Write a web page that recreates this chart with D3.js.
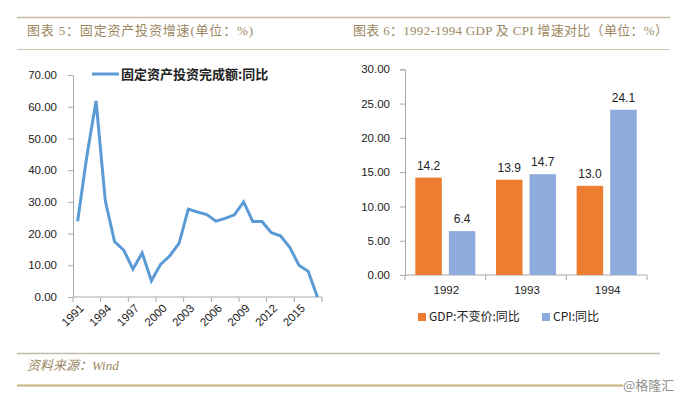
<!DOCTYPE html>
<html><head><meta charset="utf-8">
<script src="https://cdn.jsdelivr.net/npm/d3@7"></script>
<style>
html,body{margin:0;padding:0;background:#fff;}
svg{display:block;}
.tick text{font-family:"Liberation Sans","Noto Sans",sans-serif;}
</style>
</head><body>
<script>
// ---- data ----
const leftTitle = "图表 5：固定资产投资增速(单位：%)";
const rightTitle = "图表 6：1992-1994 GDP 及 CPI 增速对比（单位：%）";
const sourceText = "资料来源：Wind";
const watermark = "@格隆汇";

const years = [1991,1992,1993,1994,1995,1996,1997,1998,1999,2000,2001,2002,2003,2004,2005,2006,2007,2008,2009,2010,2011,2012,2013,2014,2015,2016,2017];
const faiGrowth = [23.9,44.4,61.8,30.4,17.5,14.8,8.8,13.9,5.1,10.3,13.0,16.9,27.7,26.8,26.0,23.9,24.8,25.9,30.0,23.8,23.8,20.3,19.3,15.7,10.0,8.1,0.0];
const faiName = "固定资产投资完成额:同比";
const leftYTicks = [0,10,20,30,40,50,60,70];
const leftXLabels = [1991,1994,1997,2000,2003,2006,2009,2012,2015];

const barYears = ["1992","1993","1994"];
const seriesNames = ["GDP:不变价:同比","CPI:同比"];
const gdpGrowth = [14.2,13.9,13.0];
const cpiGrowth = [6.4,14.7,24.1];
const rightYTicks = [0,5,10,15,20,25,30];

// ---- drawing ----
const W = 682, H = 400;
const svg = d3.select("body").append("svg").attr("width",W).attr("height",H);
const gold = "#9c8762";
const axisColor = "#a9a9a9";
const cjk = '"Noto Sans CJK SC","Noto Sans",sans-serif';

// header / footer frame
svg.append("line").attr("x1",17).attr("x2",670).attr("y1",17.5).attr("y2",17.5).attr("stroke","#c7bca6").attr("stroke-width",1.5);
svg.append("line").attr("x1",17).attr("x2",670).attr("y1",49.5).attr("y2",49.5).attr("stroke","#cfc5b2").attr("stroke-width",1.2);
svg.append("text").attr("x",27).attr("y",35).attr("fill",gold)
  .attr("font-family",'"Liberation Serif","Noto Sans CJK SC",serif').attr("font-size",13)
  .attr("textLength",226).attr("lengthAdjust","spacing").text(leftTitle);
svg.append("text").attr("x",353).attr("y",35).attr("fill",gold)
  .attr("font-family",'"Liberation Serif","Noto Sans CJK SC",serif').attr("font-size",13)
  .attr("textLength",315).attr("lengthAdjust","spacing").text(rightTitle);

svg.append("line").attr("x1",17).attr("x2",660).attr("y1",353.5).attr("y2",353.5).attr("stroke","#c2bbad").attr("stroke-width",1.5);
svg.append("line").attr("x1",17).attr("x2",623).attr("y1",385.5).attr("y2",385.5).attr("stroke","#c8b27f").attr("stroke-width",2);
svg.append("text").attr("x",27).attr("y",370).attr("fill",gold)
  .attr("font-family",'"Liberation Serif","Noto Sans CJK SC",serif').attr("font-size",13)
  .attr("font-style","italic").text(sourceText);
svg.append("text").attr("x",623).attr("y",390).attr("fill","#8f8f8f")
  .attr("font-family",cjk).attr("font-size",13).text(watermark);

// ---- left line chart ----
const xL = d3.scaleBand().domain(years).range([73,322]).padding(0);
const yL = d3.scaleLinear().domain([0,70]).range([297,75]);
const gLY = svg.append("g").attr("transform","translate(73,0)")
  .call(d3.axisLeft(yL).tickValues(leftYTicks).tickFormat(d3.format(".2f")).tickSize(5).tickPadding(11));
gLY.selectAll("text").attr("font-size",11.5).attr("fill","#222");
gLY.selectAll("line,path").attr("stroke",axisColor);

const gLX = svg.append("g");
gLX.append("line").attr("x1",73).attr("x2",322).attr("y1",297).attr("y2",297).attr("stroke",axisColor);
years.forEach((yr,i)=>{
  if(i%3===0) gLX.append("line").attr("x1",xL(yr)).attr("x2",xL(yr)).attr("y1",297).attr("y2",302).attr("stroke",axisColor);
});
gLX.append("line").attr("x1",322).attr("x2",322).attr("y1",297).attr("y2",302).attr("stroke",axisColor);
leftXLabels.forEach(yr=>{
  const cx = xL(yr)+xL.bandwidth()/2;
  gLX.append("text").attr("transform",`translate(${cx+4},${306}) rotate(-45)`)
    .attr("text-anchor","end").attr("dy","0.35em")
    .attr("font-family",'"Liberation Sans","Noto Sans",sans-serif').attr("font-size",11.5).attr("fill","#222").text(yr);
});

const line = d3.line().x((d,i)=>xL(years[i])+xL.bandwidth()/2).y(d=>yL(d));
svg.append("path").datum(faiGrowth).attr("d",line).attr("fill","none")
  .attr("stroke","#5b9bd5").attr("stroke-width",3);

// legend left
svg.append("line").attr("x1",92).attr("x2",119).attr("y1",74).attr("y2",74).attr("stroke","#5b9bd5").attr("stroke-width",3);
svg.append("text").attr("x",121).attr("y",78.5).attr("font-family",cjk).attr("font-size",13)
  .attr("font-weight","bold").attr("fill","#222").text(faiName);

// ---- right bar chart ----
const x0 = d3.scaleBand().domain(barYears).range([405,647]).padding(0);
const x1 = d3.scaleBand().domain(seriesNames).range([10.3, x0.bandwidth()-10.3]).paddingInner(0.21);
const yR = d3.scaleLinear().domain([0,30]).range([275,69.3]);
const colors = ["#ed7d31","#8faadc"];

const gRY = svg.append("g").attr("transform","translate(405,0)")
  .call(d3.axisLeft(yR).tickValues(rightYTicks).tickFormat(d3.format(".2f")).tickSize(5).tickPadding(10));
gRY.selectAll("text").attr("font-size",11.5).attr("fill","#222");
gRY.selectAll("line,path").attr("stroke",axisColor);

const gRX = svg.append("g");
gRX.append("line").attr("x1",405).attr("x2",647).attr("y1",275).attr("y2",275).attr("stroke",axisColor);
barYears.forEach(c=>{
  gRX.append("line").attr("x1",x0(c)).attr("x2",x0(c)).attr("y1",275).attr("y2",280).attr("stroke",axisColor);
  gRX.append("text").attr("x",x0(c)+x0.bandwidth()/2+1).attr("y",294).attr("text-anchor","middle")
    .attr("font-family",'"Liberation Sans","Noto Sans",sans-serif').attr("font-size",11.5).attr("fill","#222").text(c);
});
gRX.append("line").attr("x1",647).attr("x2",647).attr("y1",275).attr("y2",280).attr("stroke",axisColor);

const seriesData = [gdpGrowth, cpiGrowth];
seriesData.forEach((vals,s)=>{
  vals.forEach((v,i)=>{
    const bx = x0(barYears[i]) + x1(seriesNames[s]);
    svg.append("rect").attr("x",bx).attr("y",yR(v)).attr("width",x1.bandwidth())
      .attr("height",yR(0)-yR(v)).attr("fill",colors[s]);
    svg.append("text").attr("x",bx+x1.bandwidth()/2).attr("y",yR(v)-8).attr("text-anchor","middle")
      .attr("font-family",'"Liberation Sans","Noto Sans",sans-serif').attr("font-size",12).attr("fill","#222")
      .text(d3.format(".1f")(v));
  });
});

// legend right
const legX = [418, 542];
seriesNames.forEach((n,s)=>{
  svg.append("rect").attr("x",legX[s]).attr("y",313).attr("width",8).attr("height",8).attr("fill",colors[s]);
  svg.append("text").attr("x",legX[s]+11).attr("y",321).attr("font-family",cjk).attr("font-size",12)
    .attr("fill","#222").text(n);
});
</script>
</body></html>
